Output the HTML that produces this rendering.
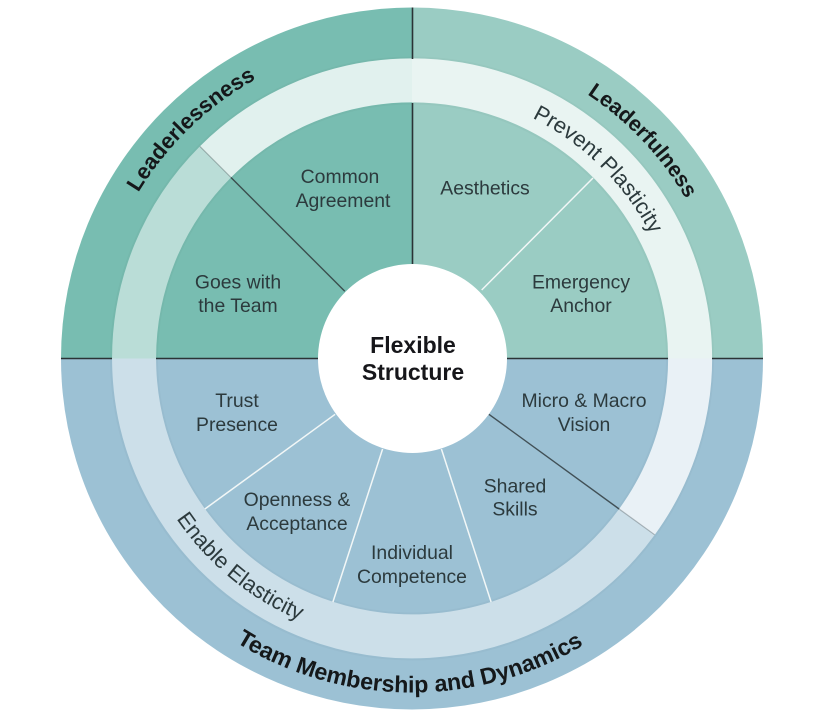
<!DOCTYPE html>
<html>
<head>
<meta charset="utf-8">
<style>
html,body{margin:0;padding:0;background:#fff;width:826px;height:726px;overflow:hidden}
svg{display:block}
text{font-family:"Liberation Sans",Arial,sans-serif}
.l{font-size:19.4px;fill:#2c3a3d;text-anchor:middle}
.c{font-size:23px;font-weight:bold;fill:#16161a;text-anchor:middle}
.b{font-size:21.4px;font-weight:bold;fill:#15181a;text-anchor:middle}
.t{font-size:23.2px;font-weight:bold;fill:#15181a;text-anchor:middle}
.r{font-size:22px;fill:#2c3a3d;text-anchor:middle}
</style>
</head>
<body>
<svg width="826" height="726" viewBox="0 0 826 726" xmlns="http://www.w3.org/2000/svg">
<defs>
<path id="pNW" d="M92 358.5A320 320 0 0 1 412 38.5"/>
<path id="pNE" d="M412 41.5A317 317 0 0 1 729 358.5"/>
<path id="pPP" d="M412 89.5A269 269 0 0 1 681 358.5"/>
<path id="pTM" d="M78 358.5A334 334 0 0 0 746 358.5"/>
<path id="pEE" d="M128.6 388.3A285 285 0 0 0 441.8 641.9"/>
</defs>
<path d="M412 358.5V7.5A351 351 0 0 0 61 358.5Z" fill="#78bdb1"/>
<path d="M412 358.5V7.5A351 351 0 0 1 763 358.5Z" fill="#9accc3"/>
<path d="M61 358.5H763A351 351 0 0 1 61 358.5Z" fill="#9cc1d4"/>
<circle cx="412" cy="358.5" r="301" fill="none" stroke="#000" stroke-opacity=".025" stroke-width="2"/>
<circle cx="412" cy="358.5" r="255" fill="none" stroke="#000" stroke-opacity=".025" stroke-width="2"/>
<path d="M215.4 161.9A278 278 0 0 1 636.9 521.9" fill="none" stroke="#fff" stroke-opacity=".78" stroke-width="44"/>
<path d="M636.9 521.9A278 278 0 1 1 215.4 161.9" fill="none" stroke="#fff" stroke-opacity=".49" stroke-width="44"/>
<g stroke="#2b3336" stroke-width="1.6" fill="none">
<path d="M412.5 7.5V59M412.5 103V264"/>
<path d="M61 358.5H112M156 358.5H318M507 358.5H668M712 358.5H763"/>
<path d="M344.8 291.3L231 177.5" stroke-width="1.4" stroke-opacity=".8"/>
<path d="M231 177.5L199.9 146.4" stroke-width="1.2" stroke-opacity=".3"/>
<path d="M488.9 414.3L619.1 509" stroke-width="1.4" stroke-opacity=".8"/>
<path d="M619.1 509L654.7 534.8" stroke-width="1.2" stroke-opacity=".3"/>
</g>
<g stroke="#f2f7f7" stroke-width="1.5" fill="none">
<path d="M481.7 290L593 178"/>
<path d="M441.4 449L491.1 602"/>
<path d="M382.6 449L332.9 602"/>
<path d="M335.1 414.3L204.9 509"/>
</g>
<circle cx="412.5" cy="358.5" r="94.5" fill="#fff"/>
<text class="c" x="413" y="353">Flexible</text>
<text class="c" x="413" y="380">Structure</text>
<text class="l" x="340" y="183">Common</text>
<text class="l" x="343" y="207">Agreement</text>
<text class="l" x="238" y="288.5">Goes with</text>
<text class="l" x="238" y="312">the Team</text>
<text class="l" x="485" y="194.5">Aesthetics</text>
<text class="l" x="581" y="288.5">Emergency</text>
<text class="l" x="581" y="312">Anchor</text>
<text class="l" x="237" y="407">Trust</text>
<text class="l" x="237" y="431">Presence</text>
<text class="l" x="297" y="506">Openness &amp;</text>
<text class="l" x="297" y="530">Acceptance</text>
<text class="l" x="412" y="559">Individual</text>
<text class="l" x="412" y="583">Competence</text>
<text class="l" x="515" y="492.5">Shared</text>
<text class="l" x="515" y="515.5">Skills</text>
<text class="l" x="584" y="407">Micro &amp; Macro</text>
<text class="l" x="584" y="431">Vision</text>
<text class="b" style="font-size:22px"><textPath href="#pNW" startOffset="257">Leaderlessness</textPath></text>
<text class="b"><textPath href="#pNE" startOffset="258">Leaderfulness</textPath></text>
<text class="r"><textPath href="#pPP" startOffset="209">Prevent Plasticity</textPath></text>
<text class="t"><textPath href="#pTM" startOffset="522">Team Membership and Dynamics</textPath></text>
<text class="r"><textPath href="#pEE" startOffset="221">Enable Elasticity</textPath></text>
</svg>
</body>
</html>
